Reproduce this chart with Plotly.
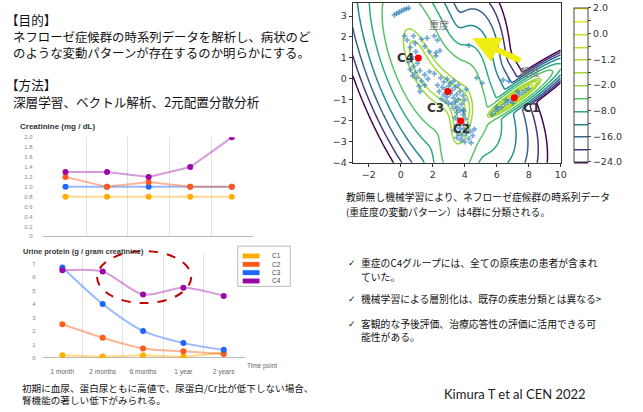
import numpy as np
import plotly.graph_objects as go
from plotly.colors import sample_colorscale

W, H = 643, 412

# ---------------- time-course data ----------------
time_points = ["1 month", "2 months", "6 months", "1 year", "2 years"]
groups = ["C1", "C2", "C3", "C4"]
group_colors = ["#FFAE00", "#FF5A1A", "#1F66FF", "#9B06A8"]
group_line_colors = ["rgba(255,174,0,0.45)", "rgba(255,90,26,0.45)",
                     "rgba(31,102,255,0.45)", "rgba(155,6,168,0.40)"]

creat_c1 = [0.8, 0.8, 0.8, 0.8, 0.8]
creat_c2 = [1.2, 1.0, 1.1, 1.0, 1.0]
creat_c3 = [1.0, 1.0, 1.0, 1.0, 1.0]
creat_c4 = [1.3, 1.3, 1.2, 1.4, 2.0]
creat_ticks = [0, 0.2, 0.4, 0.6, 0.8, 1.0, 1.2, 1.4, 1.6, 1.8, 2.0]
creat_ticktext = ["0", "0.2", "0.4", "0.6", "0.8", "1.0", "1.2", "1.4", "1.6", "1.8", "2.0"]

uprot_c1 = [0.2, 0.1, 0.2, 0.1, 0.4]
uprot_c2 = [2.5, 1.5, 0.7, 0.5, 0.3]
uprot_c3 = [6.7, 4.0, 2.0, 1.1, 0.6]
uprot_c4 = [6.5, 6.4, 4.7, 5.2, 4.6]
uprot_ticks = [0, 1, 2, 3, 4, 5, 6, 7]

# ---------------- clustering map data ----------------
center_names = ["C1", "C2", "C3", "C4"]
center_x = [7.1, 3.75, 2.95, 1.1]
center_y = [-0.9, -2.0, -0.6, 1.0]

# mixture components: weight, major / minor sd, major-axis angle (deg)
gmm_weights = [0.25, 0.14, 0.20, 0.26]
gmm_sd_major = [0.80, 1.00, 1.10, 1.40]
gmm_sd_minor = [0.12, 0.45, 0.60, 0.60]
gmm_angle = [28, 80, -40, -62]
# log-Jacobian of the latent-space scaling added to the mixture score
score_offset = 1.6

contour_levels = [-24.0, -20.0, -16.0, -12.0, -8.0, -5.0, -2.0, -1.6, -1.2, -0.6, 0.0, 1.0, 2.0]
cbar_labels = ["\u221224.0", "", "\u221216.0", "", "\u22128.0", "", "\u22122.0", "",
               "\u22121.2", "", "0.0", "", "2.0"]

patients_x = [-0.4, -0.25, -0.1, 0.05, 0.2, 0.35, 0.5,
              0.25, 0.4, 0.8, 0.9, 1.3, 1.65, 2.1, 2.3, 0.6, 0.95, 1.5, 1.8, 2.2, 2.45,
              0.7, 0.5, 0.8, 1.05, 0.6, 0.9, 1.2, 1.5, 1.8, 2.1, 1.0, 1.3, 1.15, 1.5, 1.7, 0.75,
              2.5, 2.7, 2.9, 3.1, 3.3, 2.6, 2.8, 3.0, 3.2, 3.4, 3.6, 2.7, 2.9, 3.1, 3.3, 3.5,
              3.7, 3.9, 2.8, 3.0, 3.2, 3.4, 3.6, 3.8, 4.0, 3.3, 3.55, 2.4, 2.3, 4.1, 3.9, 2.55,
              3.5, 3.7, 3.9, 3.4, 3.6, 3.85, 4.05, 3.5, 3.7, 3.95, 4.2, 3.35, 3.6, 3.85, 4.1,
              4.35, 3.75, 4.0, 4.25, 4.5, 3.5, 4.6, 4.4, 3.95,
              5.7, 5.9, 6.1, 6.3, 6.5, 6.7, 6.9, 7.2, 7.4, 7.6, 7.8, 8.0, 6.0, 6.6, 7.3, 7.0,
              6.75, 6.4,
              4.25, 4.75, 5.1, 2.2, 1.2]
patients_y = [3.05, 3.12, 3.18, 3.24, 3.3, 3.34, 3.38,
              2.05, 1.85, 2.05, 1.7, 1.9, 1.95, 2.05, 1.85, 1.5, 1.3, 1.55, 1.3, 1.25, 1.35,
              1.05, 0.8, 0.6, 0.75, 0.45, 0.3, 0.4, 0.2, 0.35, 0.25, 0.05, -0.1, -0.35, -0.3, 0.0, 0.15,
              0.05, -0.15, 0.0, -0.2, -0.1, -0.4, -0.5, -0.35, -0.55, -0.4, -0.3, -0.75, -0.85, -0.7, -0.9, -0.75,
              -0.6, -0.8, -1.05, -1.15, -1.2, -1.1, -1.0, -1.2, -1.0, -1.4, -1.35, -0.6, -0.3, -0.5, -1.45, -0.95,
              -1.6, -1.5, -1.7, -1.85, -1.95, -2.1, -1.9, -2.2, -2.35, -2.4, -2.2, -2.45, -2.6, -2.7, -2.6,
              -2.5, -2.9, -3.0, -2.85, -2.7, -2.8, -2.4, -3.05, -1.55,
              -1.7, -1.55, -1.45, -1.35, -1.2, -1.1, -1.0, -0.85, -0.75, -0.65, -0.55, -0.45, -1.35, -1.0, -0.6, -1.15,
              -0.1, -0.05,
              1.6, 0.05, -0.2, 1.1, -0.6]


def px(x):
    return x / W


def py(y):
    return 1 - y / H


# ---------------- mixture log-likelihood on a grid ----------------
gx = np.linspace(-3, 10, 331)
gy = np.linspace(-4, 3.62, 220)
XX, YY = np.meshgrid(gx, gy)
comp_logs = []
for w, mx, my, s1, s2, ang in zip(gmm_weights, center_x, center_y,
                                  gmm_sd_major, gmm_sd_minor, gmm_angle):
    t = np.deg2rad(ang)
    dx, dy = XX - mx, YY - my
    u = dx * np.cos(t) + dy * np.sin(t)
    v = -dx * np.sin(t) + dy * np.cos(t)
    comp_logs.append(np.log(w) - np.log(2 * np.pi * s1 * s2)
                     - 0.5 * ((u / s1) ** 2 + (v / s2) ** 2))
comp_logs = np.array(comp_logs)
mx_log = comp_logs.max(axis=0)
loglik = mx_log + np.log(np.exp(comp_logs - mx_log).sum(axis=0)) + score_offset

# contour levels are drawn at even index steps (uniform colorbar spacing),
# while each line's colour follows its actual level value on viridis
lv = np.array(contour_levels)
n_lv = len(lv)
idx = np.interp(loglik, lv, np.arange(n_lv))
idx = np.where(loglik < lv[0], (loglik - lv[0]) / (lv[1] - lv[0]), idx)
idx = np.where(loglik > lv[-1], n_lv - 1 + (loglik - lv[-1]), idx)
level_pos = (lv - lv[0]) / (lv[-1] - lv[0])
level_cols = sample_colorscale("Viridis", list(level_pos))
level_scale = [[i / (n_lv - 1), c] for i, c in enumerate(level_cols)]

fig = go.Figure()

# ---------------- creatinine ----------------
creat_series = [creat_c1, creat_c2, creat_c3, creat_c4]
for k in [0, 2, 1, 3]:
    fig.add_trace(go.Scatter(
        x=list(range(len(time_points))), y=creat_series[k], mode="lines+markers",
        line=dict(color=group_line_colors[k], width=2),
        marker=dict(color=group_colors[k], size=6),
        xaxis="x", yaxis="y", showlegend=False, hoverinfo="skip"))

# ---------------- urine protein ----------------
uprot_series = [uprot_c1, uprot_c2, uprot_c3, uprot_c4]
for k in range(4):
    fig.add_trace(go.Scatter(
        x=list(range(len(time_points))), y=uprot_series[k], mode="lines+markers",
        line=dict(color=group_line_colors[k], width=2, shape="spline", smoothing=0.8),
        marker=dict(color=group_colors[k], size=6),
        xaxis="x2", yaxis="y2", showlegend=False, hoverinfo="skip"))

# ---------------- clustering map ----------------
fig.add_trace(go.Contour(
    x=gx, y=gy, z=idx, xaxis="x3", yaxis="y3",
    colorscale=level_scale, zmin=0, zmax=n_lv - 1, autocontour=False,
    contours=dict(start=0, end=n_lv - 1, size=1, coloring="lines"),
    line=dict(width=1.5), hoverinfo="skip",
    colorbar=dict(
        x=px(579), xanchor="left", y=py(162), yanchor="bottom", yref="paper",
        len=157 / H, lenmode="fraction", thickness=14, thicknessmode="pixels",
        ypad=0, xpad=0, outlinewidth=1, outlinecolor="#444",
        tickmode="array", tickvals=list(range(n_lv)), ticktext=cbar_labels,
        ticks="outside", ticklen=3, tickcolor="#444",
        tickfont=dict(family="DejaVu Sans", size=9.5, color="#333"))))

fig.add_trace(go.Scatter(
    x=patients_x, y=patients_y, mode="markers", xaxis="x3", yaxis="y3",
    marker=dict(symbol="cross", size=4.5, color="rgba(31,119,180,0.6)"),
    showlegend=False, hoverinfo="skip"))

fig.add_trace(go.Scatter(
    x=center_x, y=center_y, mode="markers", xaxis="x3", yaxis="y3",
    marker=dict(size=7, color="#FF0000"), showlegend=False, hoverinfo="skip"))

small = dict(family="Liberation Sans", size=6, color="#888")
grid_minor = dict(tickvals=[0.5, 1.5, 2.5, 3.5], showgrid=True, gridcolor="#E3E3E3", gridwidth=1)

fig.update_layout(
    width=W, height=H, margin=dict(l=0, r=0, t=0, b=0),
    paper_bgcolor="white", plot_bgcolor="white", showlegend=False,
    xaxis=dict(domain=[px(43), px(255)], range=[-0.55, 4.5], anchor="y",
               tickvals=[], showgrid=False, zeroline=False, minor=grid_minor,
               showline=False),
    yaxis=dict(domain=[py(238), py(137)], range=[0, 2.0], anchor="x",
               tickvals=creat_ticks, ticktext=creat_ticktext, tickfont=small,
               showgrid=False, zeroline=True, zerolinecolor="#BBBBBB", zerolinewidth=1,
               ticks="", ticklabelstandoff=9),
    xaxis2=dict(domain=[px(43), px(247)], range=[-0.49, 4.52], anchor="y2",
                tickvals=list(range(5)), ticktext=time_points,
                tickfont=dict(family="Liberation Sans", size=6.5, color="#666"),
                showgrid=False, zeroline=False, minor=grid_minor, ticks="",
                ticklabelstandoff=9),
    yaxis2=dict(domain=[py(362), py(256)], range=[0, 7.7], anchor="x2",
                tickvals=uprot_ticks, tickfont=small, showgrid=False,
                zeroline=True, zerolinecolor="#BBBBBB", zerolinewidth=1,
                ticks="", ticklabelstandoff=6),
    xaxis3=dict(domain=[px(356), px(566)], range=[-3, 10], anchor="y3",
                tickvals=[-2, 0, 2, 4, 6, 8, 10], ticks="outside", ticklen=3,
                tickcolor="#333", showline=True, linecolor="#333", mirror=True,
                showgrid=False, zeroline=False,
                tickfont=dict(family="DejaVu Sans", size=9.5, color="#333")),
    yaxis3=dict(domain=[py(163), 1.0], range=[-4, 3.62], anchor="x3",
                tickvals=[-4, -3, -2, -1, 0, 1, 2, 3], ticks="outside", ticklen=3,
                tickcolor="#333", showline=True, linecolor="#333", mirror=True,
                showgrid=False, zeroline=False,
                tickfont=dict(family="DejaVu Sans", size=9.5, color="#333")),
)

ann = []
jp = "Noto Sans CJK JP"


def text(x, y, s, size, color="#111", family=jp, xanchor="left", bold=False):
    ann.append(dict(x=px(x), y=py(y), xref="paper", yref="paper", text=s,
                    showarrow=False, xanchor=xanchor, yanchor="middle", align="left",
                    font=dict(family=family, size=size, color=color,
                              weight="bold" if bold else "normal")))


# upper-left heading block
text(4, 17, "【目的】", 12.6)
text(11, 42.5, "ネフローゼ症候群の時系列データを解析し、病状のど<br>"
               "のような変動パターンが存在するのか明らかにする。", 12.4)
text(4, 83, "【方法】", 12.6)
text(11, 100, "深層学習、ベクトル解析、2元配置分散分析", 12.6)

# chart titles and axis notes
text(18, 126, "Creatinine (mg / dL)", 8, "#333", "Liberation Sans", bold=True)
text(21, 253, "Urine protein (g / gram creatinine)", 7.5, "#333", "Liberation Sans", bold=True)
text(247, 370, "Time point", 6.5, "#666", "Liberation Sans")

# bottom-left remark
text(20, 399, "初期に血尿、蛋白尿ともに高値で、尿蛋白/Cr比が低下しない場合、<br>"
              "腎機能の著しい低下がみられる。", 9.6)

# right-hand notes
text(347, 198, "教師無し機械学習により、ネフローゼ症候群の時系列データ", 9.8)
text(347, 213, "(重症度の変動パターン）は4群に分類される。", 9.8)
for yy, line in [(265, "重症のC4グループには、全ての原疾患の患者が含まれ"),
                 (302, "機械学習による層別化は、既存の疾患分類とは異なる>"),
                 (327, "客観的な予後評価、治療応答性の評価に活用できる可")]:
    text(349, yy, "✓", 9, "#111", "DejaVu Sans")
    text(362, yy, line, 9.8)
text(362, 279, "ていた。", 9.8)
text(362, 341, "能性がある。", 9.8)

text(520, 399, "Kimura T et al CEN 2022", 13, "#222", "Lato", xanchor="center")

# legend of the urine protein chart
shapes = [dict(type="rect", xref="paper", yref="paper", x0=px(240), x1=px(293),
               y0=py(289), y1=py(248), line=dict(color="#BBBBBB", width=1),
               fillcolor="white", layer="above")]
for k, name in enumerate(groups):
    yc = 258 + k * 8.5
    shapes.append(dict(type="rect", xref="paper", yref="paper", x0=px(245), x1=px(262),
                       y0=py(yc + 2.5), y1=py(yc - 2.5), line=dict(width=0),
                       fillcolor=group_colors[k], layer="above"))
    text(273, yc, name, 6.5, "#444", "Liberation Sans")

# dashed highlight around the C4 plateau
shapes.append(dict(type="circle", xref="paper", yref="paper", x0=px(98), x1=px(193),
                   y0=py(306), y1=py(253), line=dict(color="#C00000", width=2, dash="dash"),
                   layer="above"))

# cluster labels on the map
label_shift = {"C1": (17, -10), "C2": (1, -8), "C3": (-12, -16), "C4": (-13, 0)}
for name, cx, cy in zip(center_names, center_x, center_y):
    sx, sy = label_shift[name]
    ann.append(dict(x=cx, y=cy, xref="x3", yref="y3", text=name, showarrow=False,
                    xshift=sx, yshift=sy,
                    font=dict(family="DejaVu Sans", size=12, color="#333", weight="bold")))

ann.append(dict(x=2.4, y=2.6, xref="x3", yref="y3", text="重度", showarrow=False,
                font=dict(family=jp, size=10, color="#777")))
ann.append(dict(x=8.1, y=0.37, xref="x3", yref="y3", text="軽度", showarrow=False,
                font=dict(family=jp, size=10, color="#777")))
# severity direction arrow
ann.append(dict(x=4.47, y=1.94, ax=7.57, ay=0.84, xref="x3", yref="y3",
                axref="x3", ayref="y3", text="", showarrow=True,
                arrowhead=2, arrowsize=0.9, arrowwidth=6, arrowcolor="#EEEE10"))

fig.update_layout(annotations=ann, shapes=shapes)
fig.write_html("out.html")
